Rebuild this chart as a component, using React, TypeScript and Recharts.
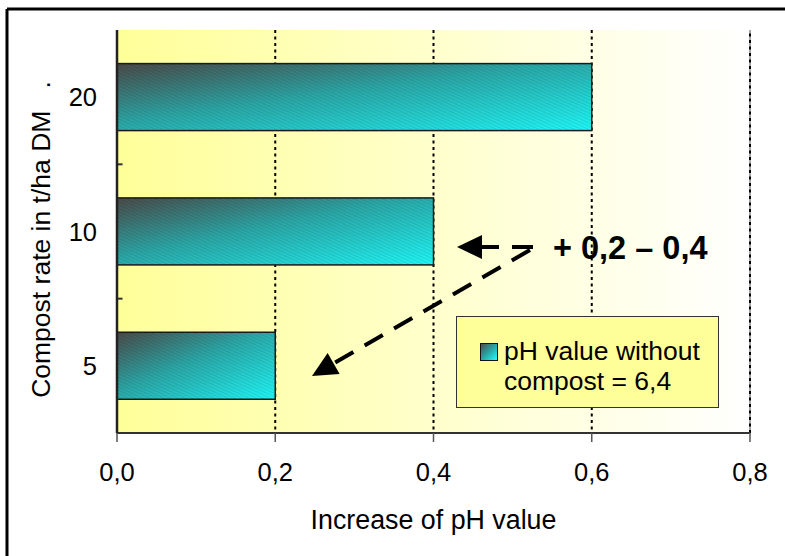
import React from "react"
import { Bar, BarChart, CartesianGrid, Legend, ReferenceLine, XAxis, YAxis } from "recharts"

const categories = ["20", "10", "5"]
const increase = [0.6, 0.4, 0.2]
const xTicks = [0, 0.2, 0.4, 0.6, 0.8]
const seriesName = "pH value without compost = 6,4"
const note = "+ 0,2 \u2013 0,4"

const data = categories.map((rate, i) => ({ rate, value: increase[i] }))

const FONT = "'Liberation Sans', Arial, sans-serif"

const fmt = (v: number) => v.toFixed(1).replace(".", ",")

// bar with gradient + fine diagonal hatching
const HatchBar = (props: any) => {
    const { x, y, width, height } = props
    if (!width || !height) return null
    return (
        <g>
            <rect x={x} y={y} width={width} height={height} fill="url(#barGrad)" />
            <rect x={x} y={y} width={width} height={height} fill="url(#hatch)" />
            <rect x={x} y={y} width={width} height={height} fill="none" stroke="#1a1a1a" strokeWidth={1.5} />
        </g>
    )
}

const LegendBox = (props: any) => {
    const item = props.payload && props.payload[0]
    return (
        <div
            style={{
                boxSizing: "border-box",
                width: 263,
                height: 92,
                background: "#FFFF99",
                border: "1.5px solid #333",
                display: "flex",
                alignItems: "flex-start",
                padding: "19px 0 0 23px",
                fontFamily: FONT,
                fontSize: 26.5,
                lineHeight: "30px",
                color: "#000",
            }}
        >
            <div
                style={{
                    width: 16,
                    height: 16,
                    marginTop: 7,
                    marginRight: 6,
                    border: "1px solid #111",
                    background: "linear-gradient(135deg, #4d4d4d 0%, #2aa5a5 50%, #22ffff 100%)",
                    flexShrink: 0,
                }}
            />
            <div style={{ width: 215 }}>{item ? item.value : seriesName}</div>
        </div>
    )
}

// dashed arrow with a filled head, used for the note
function Arrow({ x1, y1, x2, y2 }: { x1: number; y1: number; x2: number; y2: number }) {
    const dx = x2 - x1
    const dy = y2 - y1
    const len = Math.sqrt(dx * dx + dy * dy)
    const ux = dx / len
    const uy = dy / len
    const headLen = 25
    const half = 12
    const bx = x2 - ux * headLen
    const by = y2 - uy * headLen
    const pts = `${x2},${y2} ${bx - uy * half},${by + ux * half} ${bx + uy * half},${by - ux * half}`
    return (
        <g>
            <line x1={x1} y1={y1} x2={bx + ux * 2} y2={by + uy * 2} stroke="#000" strokeWidth={4} strokeDasharray="21 13" />
            <polygon points={pts} fill="#000" />
        </g>
    )
}

export default function App() {
    return (
        <div style={{ position: "absolute", left: 0, top: 0, width: 785, height: 556, background: "#fff" }}>
            <BarChart
                width={785}
                height={556}
                data={data}
                layout="vertical"
                margin={{ top: 30, right: 35, left: 0, bottom: 0 }}
                barCategoryGap="25%"
            >
                <defs>
                    <linearGradient id="bgGrad" x1="0" y1="0" x2="1" y2="0">
                        <stop offset="0%" stopColor="#FFFF99" />
                        <stop offset="100%" stopColor="#FFFFFF" />
                    </linearGradient>
                    <linearGradient id="barGrad" x1="0" y1="0" x2="1" y2="1">
                        <stop offset="0%" stopColor="#4a4a48" />
                        <stop offset="45%" stopColor="#2ba8a8" />
                        <stop offset="100%" stopColor="#1ff8f8" />
                    </linearGradient>
                    <pattern id="hatch" patternUnits="userSpaceOnUse" width={3} height={3} patternTransform="rotate(25)">
                        <rect x={0} y={0} width={3} height={1.2} fill="rgba(0,0,0,0.1)" />
                    </pattern>
                </defs>
                <CartesianGrid
                    horizontal={false}
                    fill="url(#bgGrad)"
                    fillOpacity={1}
                    stroke="#000"
                    strokeWidth={2}
                    strokeDasharray="3 3.5"
                />
                <XAxis
                    type="number"
                    domain={[0, 0.8]}
                    ticks={xTicks}
                    tickFormatter={fmt}
                    height={123}
                    axisLine={{ stroke: "#333", strokeWidth: 2 }}
                    tickLine={{ stroke: "#555", strokeWidth: 1.5 }}
                    tickSize={9}
                    tickMargin={21}
                    tick={{ fontSize: 25.5, fill: "#000", fontFamily: FONT }}
                    label={{
                        value: "Increase of pH value",
                        position: "insideBottom",
                        offset: 27,
                        fontSize: 26.8,
                        fill: "#000",
                        fontFamily: FONT,
                    }}
                />
                <XAxis
                    xAxisId="top"
                    orientation="top"
                    type="number"
                    domain={[0, 0.8]}
                    height={0}
                    tick={false}
                    tickLine={false}
                    axisLine={{ stroke: "#a0a0a0", strokeWidth: 2 }}
                />
                <YAxis
                    dataKey="rate"
                    type="category"
                    width={117}
                    tickLine={false}
                    tickSize={6}
                    tickMargin={14}
                    axisLine={{ stroke: "#222", strokeWidth: 2.5 }}
                    tick={{ fontSize: 25.5, fill: "#000", fontFamily: FONT }}
                    label={{
                        content: (p: any) => {
                            const vb = p.viewBox || { x: 0, y: 30, height: 403 }
                            const cx = vb.x + 41
                            const cy = vb.y + vb.height / 2 + 8
                            return (
                                <text
                                    x={cx}
                                    y={cy}
                                    transform={`rotate(-90 ${cx} ${cy})`}
                                    textAnchor="middle"
                                    dominantBaseline="central"
                                    fontSize={26.5}
                                    fontFamily={FONT}
                                    fill="#000"
                                >
                                    Compost rate in t/ha DM {"\u00a0\u00a0"}.
                                </text>
                            )
                        },
                    }}
                />
                <ReferenceLine x={0.8} stroke="#a8a8a8" strokeWidth={2} />
                <ReferenceLine x={0.8} stroke="#000" strokeWidth={2} strokeDasharray="3 3.5" />
                {categories.slice(1).map((c) => (
                    <ReferenceLine
                        key={c}
                        segment={[
                            { x: 0, y: c },
                            { x: 0.007, y: c },
                        ]}
                        position="start"
                        stroke="#333"
                        strokeWidth={2}
                    />
                ))}
                <Legend
                    layout="vertical"
                    align="center"
                    verticalAlign="middle"
                    content={LegendBox}
                    wrapperStyle={{ position: "absolute", left: 456, top: 316, width: 263, height: 92 }}
                />
                <Bar
                    dataKey="value"
                    name={seriesName}
                    fill="url(#barGrad)"
                    shape={HatchBar}
                    isAnimationActive={false}
                />
            </BarChart>
            <svg
                width={785}
                height={556}
                style={{ position: "absolute", left: 0, top: 0, pointerEvents: "none" }}
            >
                <line x1={7} y1={9} x2={785} y2={9} stroke="#000" strokeWidth={3} />
                <line x1={7} y1={9} x2={7} y2={556} stroke="#000" strokeWidth={3} />
                <Arrow x1={533} y1={247} x2={457} y2={247} />
                <Arrow x1={530} y1={250} x2={312} y2={376} />
                <text x={553} y={259} fontSize={32.5} fontWeight="bold" fontFamily={FONT} fill="#000">
                    {note}
                </text>
            </svg>
        </div>
    )
}
